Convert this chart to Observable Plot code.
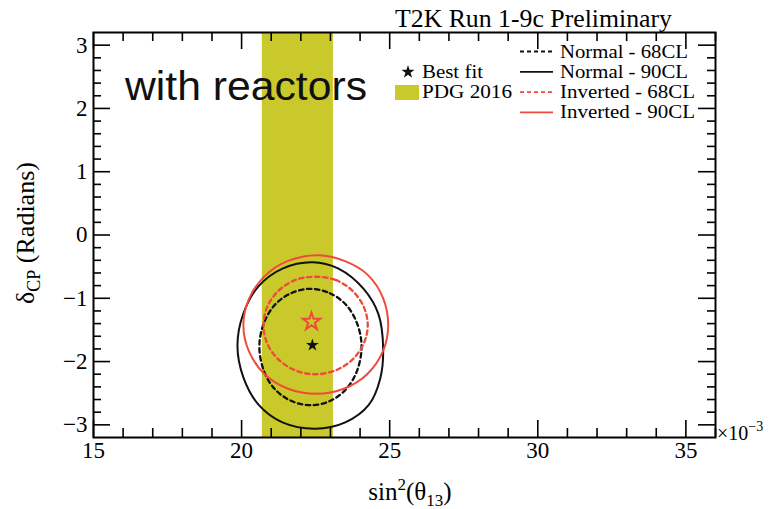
<!DOCTYPE html>
<html>
<head>
<meta charset="utf-8">
<script src="https://cdn.jsdelivr.net/npm/d3@7"></script>
<script src="https://cdn.jsdelivr.net/npm/@observablehq/plot@0.6"></script>
<style>
  html, body { margin: 0; padding: 0; background: white; }
  #wrap { position: relative; width: 776px; height: 509px; overflow: hidden; }
  #wrap > svg { position: absolute; left: 0; top: 0; }
  #overlay { pointer-events: none; font-family: 'Liberation Serif', 'Times New Roman', serif; }
</style>
</head>
<body>
<div id="wrap"></div>
<script>
// ---------- data (sin^2(theta13) in units of 1e-3, deltaCP in radians) ----------
const xMajor = [15, 20, 25, 30, 35];
const xMinor = [16, 17, 18, 19, 21, 22, 23, 24, 26, 27, 28, 29, 31, 32, 33, 34, 36];
const yMajor = [-3, -2, -1, 0, 1, 2, 3];
const yMinor = [-2.8, -2.6, -2.4, -2.2, -1.8, -1.6, -1.4, -1.2, -0.8, -0.6, -0.4, -0.2,
                0.2, 0.4, 0.6, 0.8, 1.2, 1.4, 1.6, 1.8, 2.2, 2.4, 2.6, 2.8];

const pdgLow = [20.7];
const pdgHigh = [23.1];

const bestNormal = [[22.39, -1.74]];
const bestInverted = [[22.36, -1.37]];

const normal90 = [
  [22.39, -0.43], [23.27, -0.53], [24.12, -0.85], [24.62, -1.25], [24.78, -1.80], [24.68, -2.27],
  [24.30, -2.68], [23.50, -2.96], [22.49, -3.06], [21.38, -2.96], [20.57, -2.68], [20.06, -2.25],
  [19.86, -1.75], [20.06, -1.24], [20.57, -0.81], [21.38, -0.53]
];
const normal68 = [
  [22.33, -0.85], [22.98, -0.92], [23.54, -1.11], [23.91, -1.41], [24.05, -1.76], [23.91, -2.13],
  [23.54, -2.43], [23.00, -2.62], [22.33, -2.69], [21.67, -2.62], [21.11, -2.43], [20.74, -2.13],
  [20.60, -1.76], [20.74, -1.41], [21.11, -1.11], [21.67, -0.92]
];
const inverted90 = [
  [22.60, -0.32], [23.47, -0.41], [24.26, -0.63], [24.78, -1.00], [24.95, -1.43], [24.77, -1.84],
  [24.24, -2.20], [23.45, -2.43], [22.53, -2.51], [21.57, -2.43], [20.78, -2.20], [20.25, -1.84],
  [20.06, -1.43], [20.25, -1.01], [20.78, -0.65], [21.57, -0.41]
];
const inverted68 = [
  [22.43, -0.66], [23.17, -0.71], [23.74, -0.88], [24.12, -1.13], [24.26, -1.43], [24.12, -1.72],
  [23.74, -1.97], [23.17, -2.14], [22.43, -2.20], [21.82, -2.14], [21.25, -1.97], [20.87, -1.72],
  [20.74, -1.43], [20.87, -1.13], [21.25, -0.88], [21.82, -0.71]
];

const legendLabels = ["Normal - 68CL", "Normal - 90CL", "Inverted - 68CL", "Inverted - 90CL"];

// ---------- styles ----------
const BAND = "#c9c92b";
const RED = "#ef4a3b";
const BLACK = "#111";
const W = 776, H = 509, ML = 93, MR = 61, MT = 32, MB = 72;
const innerW = W - ML - MR, innerH = H - MT - MB;
const MAJ = 17, MINX = 9, MINY = 8;

const band = pdgLow.map((lo, i) => ({lo, hi: pdgHigh[i]}));
const X = d => d[0], Y = d => d[1];
const tk = {stroke: "#000", strokeWidth: 1.6};
const CURVE = "catmull-rom-closed";

const chart = Plot.plot({
  width: W,
  height: H,
  marginLeft: ML,
  marginRight: MR,
  marginTop: MT,
  marginBottom: MB,
  x: {domain: [15, 36]},
  y: {domain: [-3.2, 3.2]},
  style: {fontFamily: "'Liberation Serif', 'Times New Roman', serif", fontSize: "23px", color: "#000", background: "transparent", overflow: "visible"},
  marks: [
    Plot.rect(band, {x1: "lo", x2: "hi", fill: BAND}),
    Plot.line(normal90, {x: X, y: Y, curve: CURVE, stroke: BLACK, strokeWidth: 2}),
    Plot.line(normal68, {x: X, y: Y, curve: CURVE, stroke: BLACK, strokeWidth: 2.3, strokeDasharray: "4.5,3.5"}),
    Plot.line(inverted90, {x: X, y: Y, curve: CURVE, stroke: RED, strokeWidth: 2}),
    Plot.line(inverted68, {x: X, y: Y, curve: CURVE, stroke: RED, strokeWidth: 2.3, strokeDasharray: "4.5,3.5"}),
    Plot.dot(bestNormal, {x: X, y: Y, symbol: "star", r: 4, fill: BLACK, stroke: "none"}),
    Plot.dot(bestInverted, {x: X, y: Y, symbol: "star", r: 5.5, fill: "none", stroke: RED, strokeWidth: 2}),
    // inward ticks on all four sides
    Plot.tickX(xMajor, {...tk, insetTop: innerH - MAJ}),
    Plot.tickX(xMinor, {...tk, insetTop: innerH - MINX}),
    Plot.tickX(xMajor, {...tk, insetBottom: innerH - MAJ}),
    Plot.tickX(xMinor, {...tk, insetBottom: innerH - MINX}),
    Plot.tickY(yMajor, {...tk, insetRight: innerW - MAJ}),
    Plot.tickY(yMinor, {...tk, insetRight: innerW - MINY}),
    Plot.tickY(yMajor, {...tk, insetLeft: innerW - MAJ}),
    Plot.tickY(yMinor, {...tk, insetLeft: innerW - MINY}),
    // tick labels
    Plot.axisX(xMajor, {anchor: "bottom", tickSize: 0, tickPadding: 4, tickFormat: "d", label: null}),
    Plot.axisY(yMajor, {anchor: "left", tickSize: 0, tickPadding: 6, tickFormat: "d", label: null}),
    Plot.frame({stroke: "#000", strokeWidth: 2})
  ]
});

const wrap = document.getElementById("wrap");
wrap.appendChild(chart);

// ---------- text overlay: titles, annotation, legend ----------
const ov = d3.select(wrap).append("svg")
  .attr("id", "overlay")
  .attr("width", W).attr("height", H)
  .attr("viewBox", `0 0 ${W} ${H}`);

ov.append("text").attr("x", 672).attr("y", 27).attr("text-anchor", "end")
  .attr("font-size", 25).attr("textLength", 277).attr("lengthAdjust", "spacingAndGlyphs")
  .text("T2K Run 1-9c Preliminary");

ov.append("text").attr("x", 125).attr("y", 100)
  .attr("font-family", "'Liberation Sans', Arial, sans-serif")
  .attr("font-size", 40).attr("fill", "#111")
  .attr("textLength", 242).attr("lengthAdjust", "spacingAndGlyphs")
  .text("with reactors");

// left legend block
ov.append("path").attr("transform", "translate(408,72)")
  .attr("d", d3.symbol(d3.symbolStar, 55)()).attr("fill", BLACK);
ov.append("text").attr("x", 422).attr("y", 78).attr("font-size", 18)
  .attr("textLength", 61).attr("lengthAdjust", "spacingAndGlyphs").text("Best fit");
ov.append("rect").attr("x", 395).attr("y", 85).attr("width", 24).attr("height", 15).attr("fill", BAND);
ov.append("text").attr("x", 422).attr("y", 98).attr("font-size", 18)
  .attr("textLength", 90).attr("lengthAdjust", "spacingAndGlyphs").text("PDG 2016");

// right legend block
const legStyles = [
  {stroke: BLACK, dash: "4,3", len: 128}, {stroke: BLACK, dash: null, len: 128},
  {stroke: RED, dash: "4,3", len: 135}, {stroke: RED, dash: null, len: 135}
];
legendLabels.forEach((lab, i) => {
  const cy = 51.5 + i * 20.3;
  const ln = ov.append("line").attr("x1", 520).attr("x2", 553).attr("y1", cy).attr("y2", cy)
    .attr("stroke", legStyles[i].stroke).attr("stroke-width", 1.8);
  if (legStyles[i].dash) ln.attr("stroke-dasharray", legStyles[i].dash);
  ov.append("text").attr("x", 560).attr("y", cy + 6).attr("font-size", 18)
    .attr("textLength", legStyles[i].len).attr("lengthAdjust", "spacingAndGlyphs").text(lab);
});

// x10^-3 multiplier
const mult = ov.append("text").attr("x", 717).attr("y", 440).attr("font-size", 20);
mult.append("tspan").text("\u00d710");
mult.append("tspan").attr("dy", -9).attr("font-size", 14).text("\u22123");

// x axis title: sin^2(theta_13)
const xt = ov.append("text").attr("x", 410).attr("y", 500).attr("text-anchor", "middle").attr("font-size", 25);
xt.append("tspan").text("sin");
xt.append("tspan").attr("dy", -10).attr("font-size", 17).text("2");
xt.append("tspan").attr("dy", 10).text("(\u03b8");
xt.append("tspan").attr("dy", 6).attr("font-size", 17).text("13");
xt.append("tspan").attr("dy", -6).text(")");

// y axis title: delta_CP (Radians)
const yt = ov.append("text").attr("transform", "translate(34,233) rotate(-90)")
  .attr("text-anchor", "middle").attr("font-size", 26);
yt.append("tspan").text("\u03b4");
yt.append("tspan").attr("dy", 6).attr("font-size", 18).text("CP");
yt.append("tspan").attr("dy", -6).text(" (Radians)");
</script>
</body>
</html>
